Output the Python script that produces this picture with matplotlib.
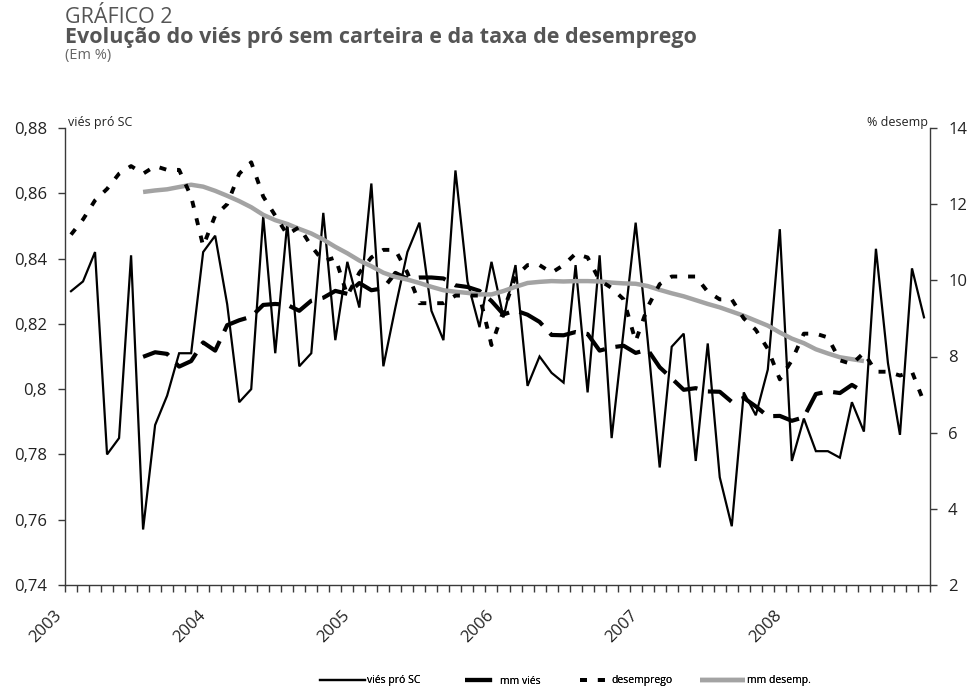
import matplotlib
matplotlib.use("Agg")
import matplotlib.pyplot as plt
from matplotlib import font_manager
import matplotlib.transforms as mtransforms

# ---------------- data ----------------
years = ["2003", "2004", "2005", "2006", "2007", "2008"]

vies = [0.830, 0.833, 0.842, 0.780, 0.785, 0.841, 0.757, 0.789, 0.798, 0.811, 0.811, 0.842,
        0.847, 0.826, 0.796, 0.800, 0.853, 0.811, 0.851, 0.807, 0.811, 0.854, 0.815, 0.839,
        0.825, 0.863, 0.807, 0.825, 0.842, 0.851, 0.824, 0.815, 0.867, 0.833, 0.819, 0.839,
        0.822, 0.838, 0.801, 0.810, 0.805, 0.802, 0.838, 0.799, 0.841, 0.785, 0.818, 0.851,
        0.815, 0.776, 0.813, 0.817, 0.778, 0.814, 0.773, 0.758, 0.799, 0.792, 0.806, 0.849,
        0.778, 0.791, 0.781, 0.781, 0.779, 0.796, 0.787, 0.843, 0.808, 0.786, 0.837, 0.822]

# moving averages start at month index 6
ma_start = 6
mm_vies = [0.8099, 0.8113, 0.8108, 0.8069, 0.8086, 0.8143, 0.8118, 0.8196, 0.8211, 0.8222,
           0.8258, 0.8261, 0.8258, 0.8240, 0.8271, 0.8280, 0.8301, 0.8292, 0.8325, 0.8303,
           0.8309, 0.8356, 0.8338, 0.8342, 0.8342, 0.8339, 0.8318, 0.8313, 0.8301, 0.8270,
           0.8229, 0.8241, 0.8228, 0.8206, 0.8166, 0.8165, 0.8175, 0.8169, 0.8118, 0.8128,
           0.8133, 0.8111, 0.8121, 0.8067, 0.8033, 0.7998, 0.8003, 0.7993, 0.7992, 0.7961,
           0.7973, 0.7947, 0.7917, 0.7918, 0.7903, 0.7914, 0.7985, 0.7993, 0.7988, 0.8013,
           0.7991]

desemprego = [11.2, 11.6, 12.1, 12.4, 12.8, 13.0, 12.8, 13.0, 12.9, 12.9, 12.2, 10.9,
              11.7, 12.0, 12.8, 13.1, 12.2, 11.7, 11.2, 11.4, 10.9, 10.5, 10.6, 9.6,
              10.2, 10.6, 10.8, 10.8, 10.2, 9.4, 9.4, 9.4, 9.6, 9.6, 9.6, 8.3,
              9.2, 10.1, 10.4, 10.4, 10.2, 10.4, 10.7, 10.6, 10.0, 9.8, 9.5, 8.4,
              9.3, 9.9, 10.1, 10.1, 10.1, 9.7, 9.5, 9.5, 9.0, 8.7, 8.2, 7.4,
              7.9, 8.6, 8.6, 8.5, 7.9, 7.8, 8.1, 7.6, 7.6, 7.5, 7.6, 6.8]

mm_desemp = [12.32, 12.36, 12.39, 12.45, 12.51, 12.46, 12.35, 12.22, 12.08, 11.92,
             11.72, 11.58, 11.48, 11.35, 11.23, 11.07, 10.88, 10.71, 10.52, 10.37,
             10.20, 10.09, 10.02, 9.93, 9.83, 9.74, 9.70, 9.67, 9.63, 9.63,
             9.72, 9.83, 9.93, 9.96, 9.98, 9.97, 9.98, 9.98, 9.97, 9.94,
             9.92, 9.91, 9.85, 9.75, 9.66, 9.58, 9.48, 9.38, 9.29, 9.18,
             9.07, 8.94, 8.81, 8.63, 8.47, 8.35, 8.19, 8.08, 7.98, 7.93,
             7.88]

left_ticks = [0.74, 0.76, 0.78, 0.80, 0.82, 0.84, 0.86, 0.88]
left_labels = ["0,74", "0,76", "0,78", "0,8", "0,82", "0,84", "0,86", "0,88"]
right_ticks = [2, 4, 6, 8, 10, 12, 14]
right_labels = ["2", "4", "6", "8", "10", "12", "14"]

legend_labels = ["viés pró SC", "mm viés", "desemprego", "mm desemp."]

# ---------------- fonts ----------------
names = {f.name for f in font_manager.fontManager.ttflist}
MAIN = "Open Sans" if "Open Sans" in names else "DejaVu Sans"
plt.rcParams["font.family"] = [MAIN, "DejaVu Sans"]

# ---------------- figure ----------------
W, H = 967, 687
fig = plt.figure(figsize=(W / 100, H / 100), dpi=100)
L, R, T, B = 65, 930, 128, 585
ax = fig.add_axes([L / W, 1 - B / H, (R - L) / W, (B - T) / H])
ax2 = ax.twinx()

n = len(vies)
x = [i + 0.5 for i in range(n)]
x_ma = [ma_start + i + 0.5 for i in range(len(mm_vies))]
x_mad = [ma_start + i + 0.5 for i in range(len(mm_desemp))]

sty_vies = dict(color="black", lw=1.6, solid_joinstyle="miter")
sty_mmv = dict(color="black", lw=3.0, dashes=(6.5, 2.6))
sty_des = dict(color="black", lw=2.8, dashes=(1.8, 2.8))
sty_mmd = dict(color="#a3a3a3", lw=3.2, solid_capstyle="butt")

l1, = ax.plot(x, vies, zorder=3, **sty_vies)
l2, = ax.plot(x_ma, mm_vies, zorder=3, **sty_mmv)
l3, = ax2.plot(x, desemprego, zorder=3, **sty_des)
l4, = ax2.plot(x_mad, mm_desemp, zorder=2, **sty_mmd)

ax.set_xlim(0, n)
ax.set_ylim(0.74, 0.88)
ax2.set_ylim(2, 14)

spine_col = "#3a3a3a"
for a in (ax, ax2):
    a.spines["top"].set_visible(False)
    for s in ("left", "right", "bottom"):
        a.spines[s].set_color(spine_col)
        a.spines[s].set_linewidth(1.0)
ax.spines["right"].set_visible(False)
ax2.spines["left"].set_visible(False)
ax2.spines["bottom"].set_visible(False)

ax.set_yticks(left_ticks)
ax.set_yticklabels(left_labels)
ax2.set_yticks(right_ticks)
ax2.set_yticklabels(right_labels)
ax.tick_params(axis="y", direction="out", length=5, width=1, color=spine_col,
               labelsize=12, pad=8, labelcolor="#222222")
ax2.tick_params(axis="y", direction="out", length=5, width=1, color=spine_col,
                labelsize=12, pad=8, labelcolor="#222222")

ax.set_xticks(list(range(0, n + 1)))
lbls = []
for i in range(n + 1):
    lbls.append(years[i // 12] if (i % 12 == 0 and i // 12 < len(years)) else "")
ax.set_xticklabels(lbls)
ax.tick_params(axis="x", direction="out", length=5, width=1, color=spine_col,
               labelsize=12, pad=15, labelcolor="#222222")
offset = mtransforms.ScaledTranslation(-6 / 100, 0, fig.dpi_scale_trans)
for t in ax.get_xticklabels():
    t.set_rotation(45)
    t.set_ha("right")
    t.set_va("center")
    t.set_rotation_mode("anchor")
    t.set_transform(t.get_transform() + offset)

# axis titles
fig.text(68 / W, 1 - 126 / H, "viés pró SC", fontsize=9, color="#222222",
         ha="left", va="baseline")
fig.text(928 / W, 1 - 126 / H, "% desemp", fontsize=9, color="#222222",
         ha="right", va="baseline")

# titles
tcol = "#555555"
fig.text(L / W, 1 - 23 / H, "GRÁFICO 2", fontsize=15.5, color=tcol, ha="left", va="baseline")
fig.text(L / W, 1 - 43 / H, "Evolução do viés pró sem carteira e da taxa de desemprego",
         fontsize=15.5, fontweight="bold", color=tcol, ha="left", va="baseline")
fig.text(L / W, 1 - 59 / H, "(Em %)", fontsize=10.5, color="#666666", ha="left", va="baseline")

# legend: one entry per legend box so each key can have its own length
leg_y = 1 - 681 / H
fs = 7.5
specs = [(l1, legend_labels[0], 320, 4.3, 0.2),
         (l2, legend_labels[1], 465, 3.1, 0.3),
         (l3, legend_labels[2], 580, 2.4, 0.6),
         (l4, legend_labels[3], 700, 4.3, 0.2)]
for h, lab, x0, hl, htp in specs:
    lg = fig.legend([h], [lab], loc="center left", bbox_to_anchor=(x0 / W, leg_y),
                    frameon=False, fontsize=fs, handlelength=hl, handletextpad=htp,
                    borderaxespad=0, borderpad=0)
    fig.add_artist(lg)

fig.savefig("out.png", dpi=100)
